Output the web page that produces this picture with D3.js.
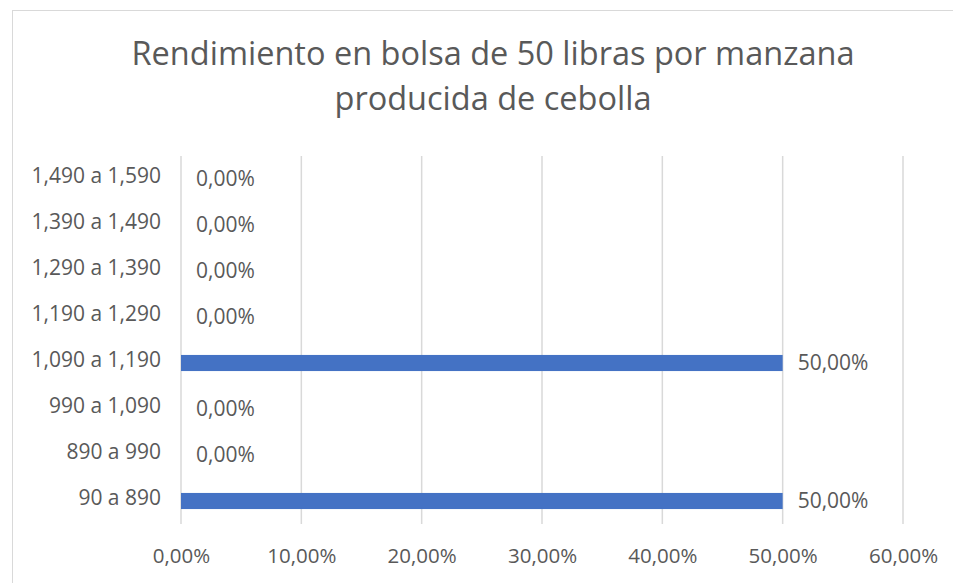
<!DOCTYPE html>
<html>
<head>
<meta charset="utf-8">
<script src="https://cdn.jsdelivr.net/npm/d3@7"></script>
<style>
  body { margin: 0; background: #fff; }
  text { font-family: "Open Sans", sans-serif; fill: #595959; }
</style>
</head>
<body>
<svg id="chart" width="953" height="583"></svg>
<script>
// categories bottom to top as in the chart
const categories = ["90 a 890", "890 a 990", "990 a 1,090", "1,090 a 1,190",
  "1,190 a 1,290", "1,290 a 1,390", "1,390 a 1,490", "1,490 a 1,590"];
const values = [50, 0, 0, 50, 0, 0, 0, 0];
const xTicks = [0, 10, 20, 30, 40, 50, 60];
const titleLines = ["Rendimiento en bolsa de 50 libras por manzana", "producida de cebolla"];

const svgWidth = 953;
const svgHeight = 583;
const margin = { top: 156, right: 50, bottom: 59, left: 181 };
const width = svgWidth - margin.left - margin.right;
const height = svgHeight - margin.top - margin.bottom;

const svg = d3.select("#chart");
const fmt = v => v.toFixed(2).replace(".", ",") + "%";

// outer frame
svg.append("rect")
  .attr("x", 12.5).attr("y", 10.5)
  .attr("width", 960).attr("height", 600)
  .attr("fill", "none")
  .attr("stroke", "#d9d9d9");

const g = svg.append("g")
  .attr("transform", `translate(${margin.left},${margin.top})`);

const x = d3.scaleLinear().domain([0, 60]).range([0, width]);
const y = d3.scaleBand()
  .domain(categories.slice().reverse())
  .range([0, height])
  .paddingInner(0.65)
  .paddingOuter(0.325);

// gridlines
g.append("g")
  .selectAll("line")
  .data(xTicks)
  .join("line")
  .attr("x1", d => x(d)).attr("x2", d => x(d))
  .attr("y1", 0).attr("y2", height)
  .attr("stroke", "#d9d9d9")
  .attr("stroke-width", 1.5);

// x axis labels
const xAxis = g.append("g")
  .attr("transform", `translate(0,${height})`)
  .call(d3.axisBottom(x).tickValues(xTicks).tickFormat(fmt).tickSize(0).tickPadding(24));
xAxis.select(".domain").remove();
xAxis.selectAll("text").style("font-size", "20.5px").attr("fill", "#595959");

// y axis labels
const yAxis = g.append("g")
  .call(d3.axisLeft(y).tickSize(0).tickPadding(20));
yAxis.select(".domain").remove();
yAxis.selectAll("text").style("font-size", "21px").attr("fill", "#595959")
  .attr("dy", "0.2em");

const rows = categories.map((c, i) => ({ cat: c, val: values[i] }));

g.selectAll(".bar")
  .data(rows)
  .join("rect")
  .attr("class", "bar")
  .attr("x", x(0))
  .attr("y", d => y(d.cat))
  .attr("width", d => x(d.val) - x(0))
  .attr("height", y.bandwidth())
  .attr("fill", "#4472c4");

g.selectAll(".lbl")
  .data(rows)
  .join("text")
  .attr("class", "lbl")
  .attr("x", d => x(d.val) + 15)
  .attr("y", d => y(d.cat) + y.bandwidth() / 2)
  .attr("dy", "0.35em")
  .style("font-size", "21px")
  .text(d => fmt(d.val));

// title
svg.append("g")
  .selectAll("text")
  .data(titleLines)
  .join("text")
  .attr("x", 493)
  .attr("y", (d, i) => 65 + i * 45)
  .attr("text-anchor", "middle")
  .style("font-size", "32.5px")
  .text(d => d);
</script>
</body>
</html>
